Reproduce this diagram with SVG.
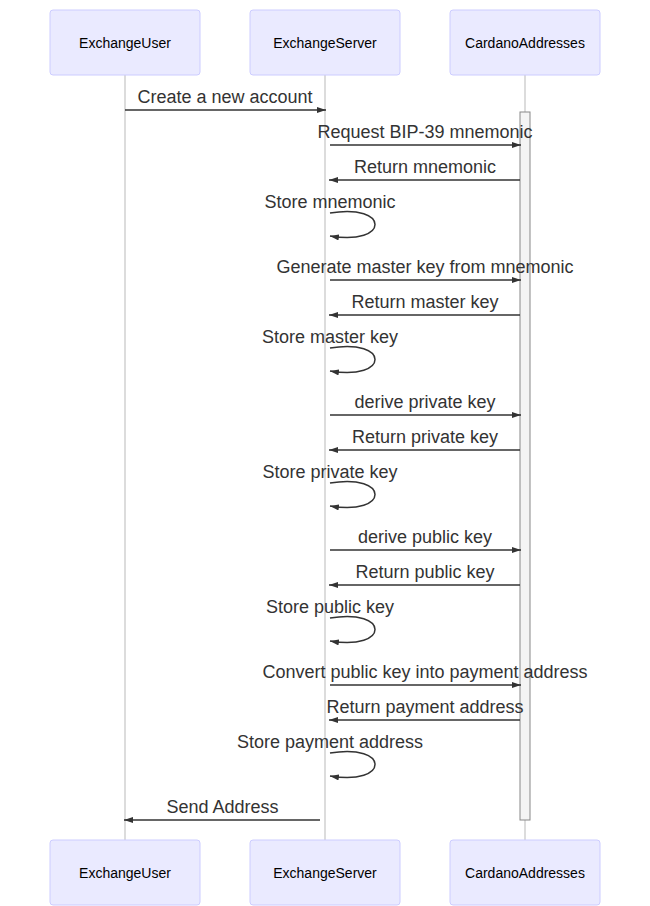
<svg xmlns="http://www.w3.org/2000/svg" width="650" height="906" viewBox="0 0 650 906">
<style>
.actor{fill:#eaeaff;stroke:#ccccff;stroke-width:1}
.atext{font-family:"Liberation Sans",Arial,sans-serif;font-size:14px;fill:#000;text-anchor:middle;dominant-baseline:central}
.life{stroke:#d0d0d0;stroke-width:1.5;fill:none}
.msg{stroke:#333;stroke-width:1.5;fill:none;marker-end:url(#arrow)}
.mtext{font-family:"Liberation Sans",Arial,sans-serif;font-size:18px;fill:#333;text-anchor:middle;dominant-baseline:central}
.act{fill:#f4f4f4;stroke:#888;stroke-width:1}
</style>
<defs>
<marker id="arrow" refX="9" refY="3" markerWidth="9" markerHeight="6" markerUnits="userSpaceOnUse" orient="auto">
<path d="M0,0 L9,3 L0,6 z" fill="#333"/>
</marker>
</defs>
<rect width="650" height="906" fill="#fff"/>
<g id="lifelines">
<line class="life" x1="125" y1="75" x2="125" y2="840"/>
<line class="life" x1="325" y1="75" x2="325" y2="840"/>
<line class="life" x1="525" y1="75" x2="525" y2="840"/>
</g>
<g id="actor-ExchangeUser-top"><rect class="actor" x="50" y="10" width="150" height="65" rx="3"/><text class="atext" x="125" y="42.5">ExchangeUser</text></g>
<g id="actor-ExchangeServer-top"><rect class="actor" x="250" y="10" width="150" height="65" rx="3"/><text class="atext" x="325" y="42.5">ExchangeServer</text></g>
<g id="actor-CardanoAddresses-top"><rect class="actor" x="450" y="10" width="150" height="65" rx="3"/><text class="atext" x="525" y="42.5">CardanoAddresses</text></g>
<g id="actor-ExchangeUser-bottom"><rect class="actor" x="50" y="840" width="150" height="65" rx="3"/><text class="atext" x="125" y="872.5">ExchangeUser</text></g>
<g id="actor-ExchangeServer-bottom"><rect class="actor" x="250" y="840" width="150" height="65" rx="3"/><text class="atext" x="325" y="872.5">ExchangeServer</text></g>
<g id="actor-CardanoAddresses-bottom"><rect class="actor" x="450" y="840" width="150" height="65" rx="3"/><text class="atext" x="525" y="872.5">CardanoAddresses</text></g>
<g id="activation"><rect class="act" x="520" y="112" width="10" height="708"/></g>
<g id="connectors">
<line class="msg" x1="125" y1="110" x2="326" y2="110"/>
<line class="msg" x1="330" y1="145" x2="521" y2="145"/>
<line class="msg" x1="520" y1="180" x2="329" y2="180"/>
<path class="msg" d="M330,213 C390,203 390,246 330,236"/>
<line class="msg" x1="330" y1="280" x2="521" y2="280"/>
<line class="msg" x1="520" y1="315" x2="329" y2="315"/>
<path class="msg" d="M330,348 C390,338 390,381 330,371"/>
<line class="msg" x1="330" y1="415" x2="521" y2="415"/>
<line class="msg" x1="520" y1="450" x2="329" y2="450"/>
<path class="msg" d="M330,483 C390,473 390,516 330,506"/>
<line class="msg" x1="330" y1="550" x2="521" y2="550"/>
<line class="msg" x1="520" y1="585" x2="329" y2="585"/>
<path class="msg" d="M330,618 C390,608 390,651 330,641"/>
<line class="msg" x1="330" y1="685" x2="521" y2="685"/>
<line class="msg" x1="520" y1="720" x2="329" y2="720"/>
<path class="msg" d="M330,753 C390,743 390,786 330,776"/>
<line class="msg" x1="320" y1="820" x2="124" y2="820"/>
</g>
<g id="labels">
<text class="mtext" x="225" y="97">Create a new account</text>
<text class="mtext" x="425" y="132">Request BIP-39 mnemonic</text>
<text class="mtext" x="425" y="167">Return mnemonic</text>
<text class="mtext" x="330" y="202">Store mnemonic</text>
<text class="mtext" x="425" y="267">Generate master key from mnemonic</text>
<text class="mtext" x="425" y="302">Return master key</text>
<text class="mtext" x="330" y="337">Store master key</text>
<text class="mtext" x="425" y="402">derive private key</text>
<text class="mtext" x="425" y="437">Return private key</text>
<text class="mtext" x="330" y="472">Store private key</text>
<text class="mtext" x="425" y="537">derive public key</text>
<text class="mtext" x="425" y="572">Return public key</text>
<text class="mtext" x="330" y="607">Store public key</text>
<text class="mtext" x="425" y="672">Convert public key into payment address</text>
<text class="mtext" x="425" y="707">Return payment address</text>
<text class="mtext" x="330" y="742">Store payment address</text>
<text class="mtext" x="222.5" y="807">Send Address</text>
</g>
</svg>
